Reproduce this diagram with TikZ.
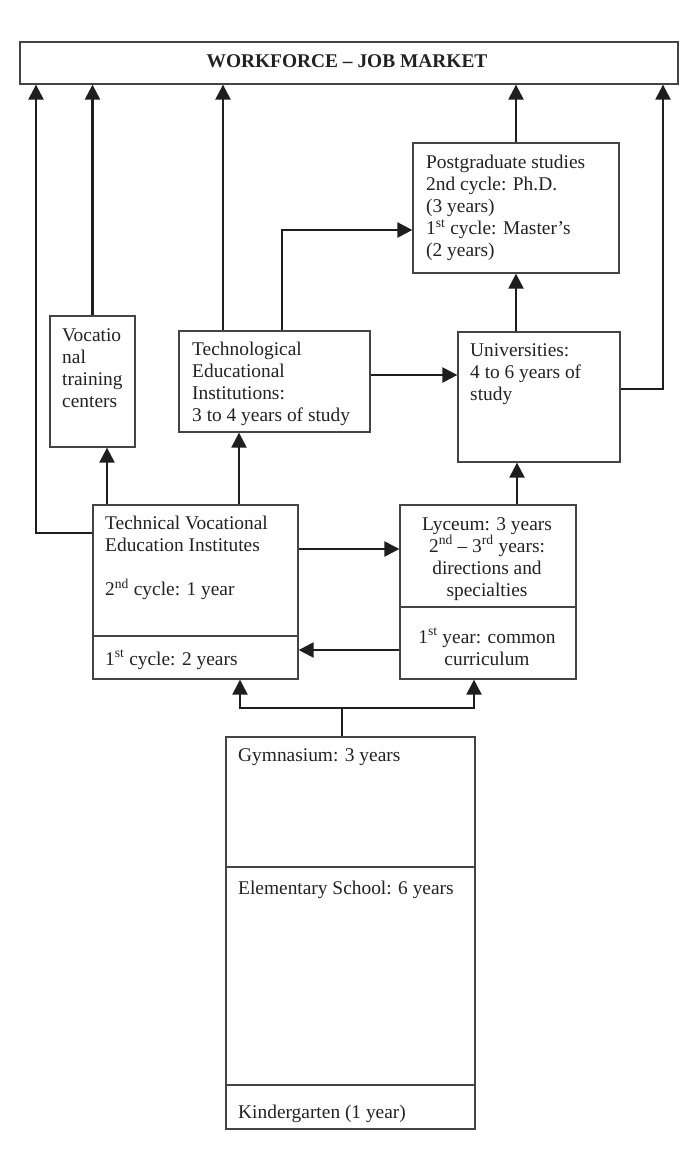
\documentclass[tikz,border=0pt]{standalone}
\usepackage{fontspec}
\setmainfont{Liberation Serif}
\usetikzlibrary{arrows.meta,calc}
\definecolor{boxc}{HTML}{444444}
\definecolor{linec}{HTML}{1E1E1E}
\definecolor{txtc}{HTML}{222222}
\tikzset{
  box/.style={draw=boxc,line width=1.3pt,rectangle,inner sep=0pt,fill=white},
  txt/.style={inner sep=0pt,anchor=north west,align=left,text=txtc,font=\fontsize{19.4}{22}\selectfont},
  ctxt/.style={inner sep=0pt,anchor=north,align=center,text=txtc,font=\fontsize{19.4}{22}\selectfont},
  arr/.style={draw=linec,line width=2.4pt,-{Triangle[length=15pt,width=15pt]}},
  ln/.style={draw=linec,line width=2.4pt},
  divl/.style={draw=boxc,line width=1.3pt}
}
\begin{document}
\begin{tikzpicture}[x=1pt,y=-1pt]
\useasboundingbox[fill=white] (0,0) rectangle (700,1171);
% boxes
\node[box,minimum width=658pt,minimum height=42pt] (top) at (349,63) {};
\node[inner sep=0pt,text=txtc,font=\fontsize{19.4}{22}\selectfont\bfseries] (toptxt) at (347,61) {WORKFORCE – JOB MARKET};
\node[box,minimum width=85pt,minimum height=131pt] (voc) at (92.5,381.5) {};
\node[box,minimum width=191pt,minimum height=101pt] (tech) at (274.5,381.5) {};
\node[box,minimum width=206pt,minimum height=130pt] (post) at (516,208) {};
\node[box,minimum width=162pt,minimum height=130pt] (univ) at (539,397) {};
\node[box,minimum width=205pt,minimum height=174pt] (tvei) at (195.5,592) {};
\node[box,minimum width=176pt,minimum height=174pt] (lyc) at (488,592) {};
\node[box,minimum width=249pt,minimum height=392pt] (gym) at (350.5,933) {};
% dividers
\coordinate (d1) at (0,636);
\coordinate (d2) at (0,607);
\coordinate (d3) at (0,867);
\coordinate (d4) at (0,1085);
\draw[divl] (tvei.west |- d1) -- (tvei.east |- d1);
\draw[divl] (lyc.west |- d2) -- (lyc.east |- d2);
\draw[divl] (gym.west |- d3) -- (gym.east |- d3);
\draw[divl] (gym.west |- d4) -- (gym.east |- d4);
% texts
\node[txt] (voct) at (62,328) {Vocatio\\nal\\training\\centers};
\node[txt] (techt) at (192,342) {Technological\\Educational\\Institutions:\\3 to 4 years of study};
\node[txt] (postt) at (426,155) {Postgraduate studies\\2nd cycle: Ph.D.\\(3 years)\\1\textsuperscript{st} cycle: Master’s\\(2 years)};
\node[txt] (univt) at (470,343) {Universities:\\4 to 6 years of\\study};
\node[txt] (tveit) at (105,516) {Technical Vocational\\Education Institutes\\[22pt]2\textsuperscript{nd} cycle: 1 year};
\node[txt] (tveib) at (105,650) {1\textsuperscript{st} cycle: 2 years};
\node[ctxt] (lyct) at (487,517) {Lyceum: 3 years\\2\textsuperscript{nd} – 3\textsuperscript{rd} years:\\directions and\\specialties};
\node[ctxt] (lycb) at (487,628) {1\textsuperscript{st} year: common\\curriculum};
\node[txt] (gymt) at (238,748) {Gymnasium: 3 years};
\node[txt] (elemt) at (238,881) {Elementary School: 6 years};
\node[txt] (kindt) at (238,1105) {Kindergarten (1 year)};
% connector coordinates
\coordinate (a1) at (36,533);
\coordinate (x107) at (107,0);
\coordinate (x239) at (239,0);
\coordinate (x223) at (223,0);
\coordinate (a6) at (282,230);
\coordinate (y375) at (0,375);
\coordinate (x516) at (516,0);
\coordinate (a10) at (663,389);
\coordinate (x517) at (517,0);
\coordinate (y549) at (0,549);
\coordinate (y650) at (0,650);
\coordinate (j) at (342,708);
\coordinate (x240) at (240,0);
\coordinate (x474) at (474,0);
% connectors
\draw[arr] (tvei.west |- a1) -- (a1) -- (a1 |- top.south);
\draw[arr] (voc.north) -- (voc.north |- top.south);
\draw[arr] (x107 |- tvei.north) -- (x107 |- voc.south);
\draw[arr] (x239 |- tvei.north) -- (x239 |- tech.south);
\draw[arr] (x223 |- tech.north) -- (x223 |- top.south);
\draw[arr] (a6 |- tech.north) -- (a6) -- (post.west |- a6);
\draw[arr] (tech.east |- y375) -- (univ.west |- y375);
\draw[arr] (x516 |- univ.north) -- (x516 |- post.south);
\draw[arr] (post.north) -- (post.north |- top.south);
\draw[arr] (univ.east |- a10) -- (a10) -- (a10 |- top.south);
\draw[arr] (x517 |- lyc.north) -- (x517 |- univ.south);
\draw[arr] (tvei.east |- y549) -- (lyc.west |- y549);
\draw[arr] (lyc.west |- y650) -- (tvei.east |- y650);
\draw[ln] (j |- gym.north) -- (j);
\draw[arr] (j) -| (x240 |- tvei.south);
\draw[arr] (j) -| (x474 |- lyc.south);
\end{tikzpicture}
\end{document}
